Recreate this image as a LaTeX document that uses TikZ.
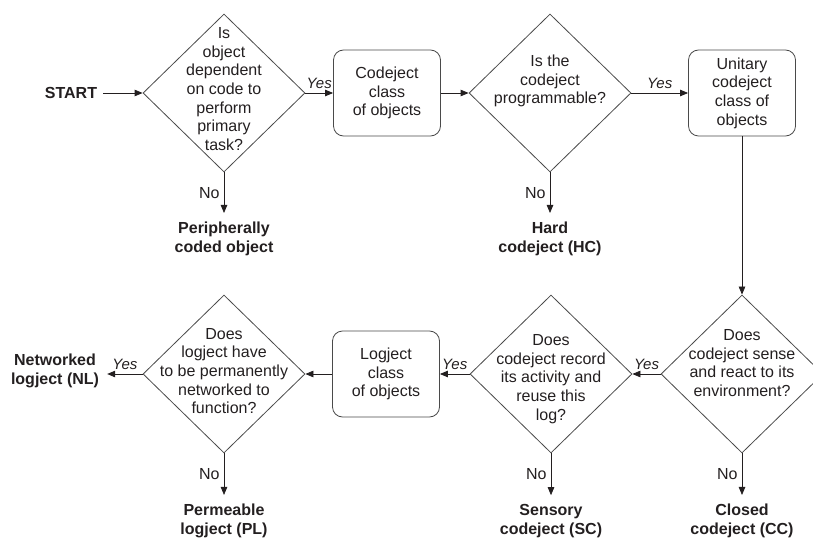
\documentclass[tikz,border=0pt]{standalone}
\usepackage{fontspec}
\setmainfont{Liberation Sans}
\usetikzlibrary{shapes.geometric,arrows.meta}
\definecolor{inkc}{HTML}{231F20}
\definecolor{linec}{HTML}{4A4A4A}
\begin{document}
\begin{tikzpicture}[x=1pt,y=-1pt,
    font=\fontsize{16}{18.7}\selectfont, text=inkc,
    decision/.style={diamond, draw=linec, line width=0.8pt, minimum width=162pt, minimum height=158pt, inner sep=0pt},
    qtext/.style={align=center, inner sep=0pt},
    classbox/.style={rectangle, rounded corners=10pt, draw=linec, line width=0.8pt, minimum width=107pt, minimum height=86pt, align=center},
    outcome/.style={align=center, font=\fontsize{16}{18.7}\selectfont\bfseries, inner xsep=3pt, inner ysep=9pt},
    flow/.style={draw=inkc, line width=0.8pt, -{Triangle[length=8pt,width=6.5pt]}},
    yeslabel/.style={above, font=\fontsize{15}{18}\selectfont\itshape, inner sep=4pt},
    nolabel/.style={left, inner sep=4pt}]

    % Fix the page to the size of the reference
    \useasboundingbox (0,0) rectangle (813,540);

    % Top row: start, first question, codeject class, second question, unitary class
    \node[font=\fontsize{16}{18.7}\selectfont\bfseries, inner sep=6pt] (start) at (71,93) {START};
    \node[decision] (d1) at (224,93) {};
    \node[qtext] (d1t) at ([yshift=4pt]d1) {Is\\object\\dependent\\on code to\\perform\\primary\\task?};
    \node[classbox] (b1) at (387,93) {Codeject\\class\\of objects};
    \node[decision] (d2) at (550,93) {};
    \node[qtext] (d2t) at ([yshift=12pt]d2) {Is the\\codeject\\programmable?};
    \node[classbox] (b2) at (742,93) {Unitary\\codeject\\class of\\objects};

    % Bottom row: questions and logject class, read from right to left
    \node[decision] (d3) at (742,374) {};
    \node[qtext] (d3t) at ([yshift=11pt]d3) {Does\\codeject sense\\and react to its\\environment?};
    \node[decision] (d4) at (551,374) {};
    \node[qtext] (d4t) at ([yshift=-5pt]d4) {Does\\codeject record\\its activity and\\reuse this\\log?};
    \node[classbox] (b3) at (386,374) {Logject\\class\\of objects};
    \node[decision] (d5) at (224,374) {};
    \node[qtext] (d5t) at ([yshift=3pt]d5) {Does\\logject have\\to be permanently\\networked to\\function?};

    % End results of the "No" and "Yes" branches
    \node[outcome] (out1) at (224,239) {Peripherally\\coded object};
    \node[outcome] (out2) at (550,239) {Hard\\codeject (HC)};
    \node[outcome] (out3) at (742,521) {Closed\\codeject (CC)};
    \node[outcome] (out4) at (551,521) {Sensory\\codeject (SC)};
    \node[outcome] (out5) at (224,521) {Permeable\\logject (PL)};
    \node[outcome, inner xsep=8pt] (nl) at (55,371) {Networked\\logject (NL)};

    % Main flow
    \draw[flow] (start) -- (d1);
    \draw[flow] (d1) -- node[yeslabel] {Yes} (b1);
    \draw[flow] (b1) -- (d2);
    \draw[flow] (d2) -- node[yeslabel] {Yes} (b2);
    \draw[flow] (b2) -- (d3);
    \draw[flow] (d3) -- node[yeslabel] {Yes} (d4);
    \draw[flow] (d4) -- node[yeslabel] {Yes} (b3);
    \draw[flow] (b3) -- (d5);
    \draw[flow] (d5.west) -- node[yeslabel] {Yes} (d5.west -| nl.east);

    % "No" branches
    \draw[flow] (d1) -- node[nolabel] {No} (out1);
    \draw[flow] (d2) -- node[nolabel] {No} (out2);
    \draw[flow] (d3) -- node[nolabel] {No} (out3);
    \draw[flow] (d4) -- node[nolabel] {No} (out4);
    \draw[flow] (d5) -- node[nolabel] {No} (out5);

\end{tikzpicture}
\end{document}
